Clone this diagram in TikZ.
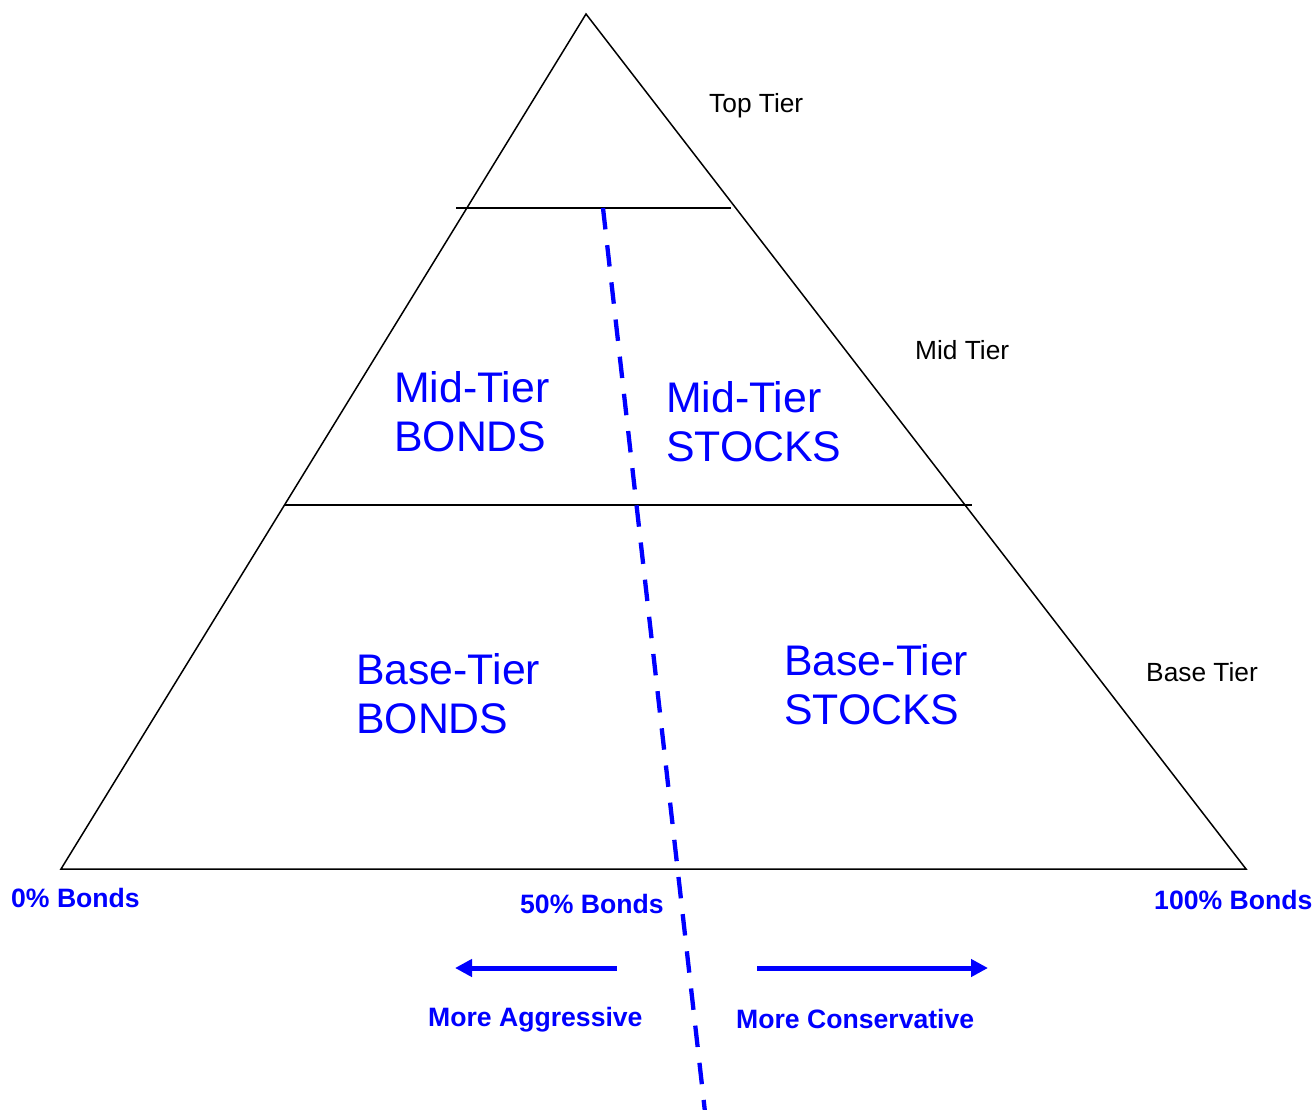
\documentclass[tikz,border=0pt]{standalone}
\usepackage{fontspec}
\setmainfont{Liberation Sans}
\usetikzlibrary{arrows.meta}
\definecolor{lblue}{RGB}{0,0,255}
\tikzset{
  edge/.style={draw=black, line width=1.5pt},
  tier/.style={font=\fontsize{26.3}{31}\selectfont, text=black, inner sep=0pt, anchor=base west},
  big/.style={font=\fontsize{42.8}{49}\selectfont, text=lblue, align=left, inner sep=0pt, anchor=west},
  pct/.style={font=\fontsize{26.6}{31}\selectfont\bfseries, text=lblue, inner sep=0pt, anchor=base west},
  divider/.style={draw=lblue, line width=4.3pt, dash pattern=on 21.5pt off 15.9pt},
  dirarrow/.style={draw=lblue, line width=5pt, -{Triangle[length=17pt,width=17pt]}}
}
\begin{document}
\begin{tikzpicture}[x=1pt,y=-1pt]
\useasboundingbox (0,0) rectangle (1315,1109);
% triangle
\coordinate (apex) at (586,14);
\coordinate (bl) at (61,869);
\coordinate (br) at (1246,869);
\draw[edge, line join=miter] (bl) -- (apex) -- (br) -- cycle;
% tier lines
\coordinate (t1) at (456,208);
\coordinate (t2) at (731,208);
\coordinate (m1) at (285,505);
\coordinate (m2) at (972,505);
\draw[edge] (t1) -- (t2);
\draw[edge] (m1) -- (m2);
% dashed divider
\coordinate (d1) at (603,208);
\coordinate (d2) at (705,1112);
\draw[divider] (d1) -- (d2);
% tier labels
\node[tier] (top) at (709,112) {Top Tier};
\node[tier] (mid) at (915,359) {Mid Tier};
\node[tier] (base) at (1146,681) {Base Tier};
% region labels
\node[big] (mb) at (394,412) {Mid-Tier\\BONDS};
\node[big] (ms) at (666,422) {Mid-Tier\\STOCKS};
\node[big] (bb) at (356,694) {Base-Tier\\BONDS};
\node[big] (bs) at (784,685) {Base-Tier\\STOCKS};
% percentage labels
\node[pct] (p0) at (11,907) {0\% Bonds};
\node[pct] (p50) at (520,913) {50\% Bonds};
\node[pct] (p100) at (1154,909) {100\% Bonds};
% direction arrows
\coordinate (la) at (617,968);
\coordinate (lb) at (455,968);
\coordinate (ra) at (757,968);
\coordinate (rb) at (988,968);
\draw[dirarrow] (la) -- (lb);
\draw[dirarrow] (ra) -- (rb);
\node[pct] (agg) at (428,1026) {More Aggressive};
\node[pct] (con) at (736,1028) {More Conservative};
\end{tikzpicture}
\end{document}
